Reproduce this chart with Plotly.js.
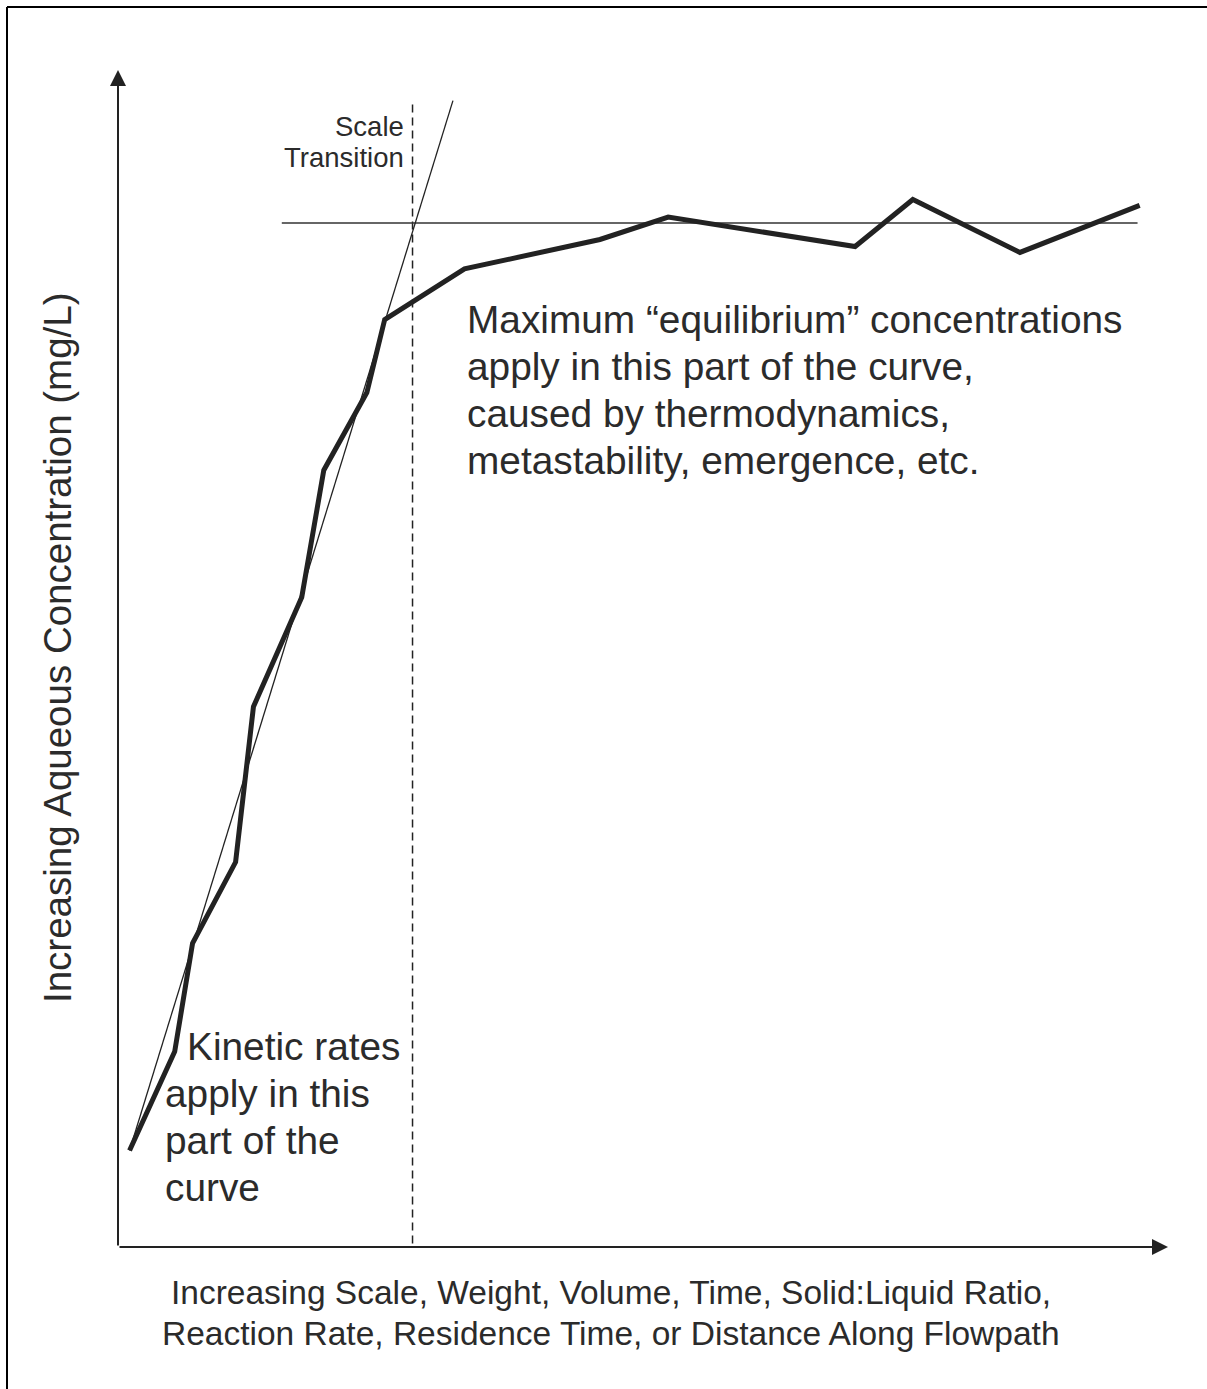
<!DOCTYPE html>
<html>
<head>
<meta charset="utf-8">
<script src="https://cdn.plot.ly/plotly-3.0.1.min.js"></script>
<style>html,body{margin:0;padding:0;background:#fff;}</style>
</head>
<body>
<div id="chart" style="width:1207px;height:1389px;"></div>
<script>
// ---- data (arbitrary conceptual units, 0-100 on both axes) ----
const curveX = [1.1, 5.4, 7.1, 11.2, 12.9, 17.5, 19.6, 23.7, 25.4, 33.0, 45.9, 52.4, 70.2, 75.7, 85.9, 97.3];
const curveY = [8.2, 16.6, 25.8, 32.7, 45.9, 55.2, 66.0, 72.6, 78.8, 83.1, 85.6, 87.5, 85.0, 89.0, 84.5, 88.5];
const kineticX = [1.1, 31.9];
const kineticY = [8.2, 97.4];
const equilibriumX = [15.6, 97.1];
const equilibriumY = [87.0, 87.0];
const transitionX = [28.05, 28.05];
const transitionY = [0.3, 97.5];

const xTitleLines = ["Increasing Scale, Weight, Volume, Time, Solid:Liquid Ratio,",
                     "Reaction Rate, Residence Time, or Distance Along Flowpath"];
const yTitle = "Increasing Aqueous Concentration (mg/L)";
const transitionLines = ["Scale", "Transition"];
const equilibriumLines = ["Maximum \u201cequilibrium\u201d concentrations",
                          "apply in this part of the curve,",
                          "caused by thermodynamics,",
                          "metastability, emergence, etc."];
const kineticLines = ["Kinetic rates", "apply in this", "part of the", "curve"];

// ---- layout helpers ----
const W = 1207, H = 1389;
const PX = x => x / W;
const PY = y => 1 - y / H;
const FONT = "Liberation Sans, Arial, sans-serif";
const TXT = "#2b2b2b";
const INK = "#222222";

const traces = [
  {x: transitionX, y: transitionY, mode: "lines", line: {color: INK, width: 1.5, dash: "8px,5px"}, hoverinfo: "skip"},
  {x: equilibriumX, y: equilibriumY, mode: "lines", line: {color: "#333", width: 1.6}, hoverinfo: "skip"},
  {x: kineticX, y: kineticY, mode: "lines", line: {color: INK, width: 1.3}, hoverinfo: "skip"},
  {x: curveX, y: curveY, mode: "lines", line: {color: INK, width: 5, shape: "linear"}, hoverinfo: "skip"}
];

const hiddenAxis = {
  range: [0, 100], showgrid: false, zeroline: false, showline: false,
  showticklabels: false, ticks: "", fixedrange: true
};

function textLines(lines, xs, y0, step, anchor, size) {
  return lines.map((t, i) => ({
    xref: "paper", yref: "paper",
    x: PX(Array.isArray(xs) ? xs[i] : xs), y: PY(y0 + i * step),
    xanchor: anchor, yanchor: "middle", text: t, showarrow: false,
    font: {family: FONT, size: size, color: TXT}
  }));
}

const annotations = [
  // axes with arrow heads
  {x: 0, y: 100, ax: 0, ay: 0, xref: "x", yref: "y", axref: "x", ayref: "y", text: "",
   showarrow: true, arrowhead: 2, arrowsize: 1.6, arrowwidth: 2, arrowcolor: INK, standoff: 0, startstandoff: 0},
  {x: 100, y: 0, ax: 0, ay: 0, xref: "x", yref: "y", axref: "x", ayref: "y", text: "",
   showarrow: true, arrowhead: 2, arrowsize: 1.6, arrowwidth: 2, arrowcolor: INK, standoff: 0, startstandoff: 0},
  // y title
  {xref: "paper", yref: "paper", x: PX(57), y: PY(648), xanchor: "center", yanchor: "middle",
   text: yTitle, textangle: -90, showarrow: false, font: {family: FONT, size: 38.5, color: TXT}}
]
  .concat(textLines(xTitleLines, 611, 1292, 41, "center", 33.5))
  .concat(textLines(transitionLines, 406, 126.4, 31.2, "right", 27.5))
  .concat(textLines(equilibriumLines, 465, 319.8, 46.8, "left", 38.8))
  .concat(textLines(kineticLines, [185, 163, 163, 163], 1046.8, 46.8, "left", 38.8));

const layout = {
  width: W, height: H,
  margin: {l: 0, r: 0, t: 0, b: 0},
  paper_bgcolor: "#ffffff", plot_bgcolor: "rgba(0,0,0,0)",
  showlegend: false,
  xaxis: Object.assign({}, hiddenAxis, {domain: [PX(118), PX(1168)]}),
  yaxis: Object.assign({}, hiddenAxis, {domain: [PY(1247), PY(70)]}),
  shapes: [
    {type: "line", xref: "paper", yref: "paper", x0: PX(7), y0: PY(7), x1: 1, y1: PY(7), line: {color: "#000", width: 2}},
    {type: "line", xref: "paper", yref: "paper", x0: PX(7), y0: PY(7), x1: PX(7), y1: 0, line: {color: "#000", width: 2}}
  ],
  annotations: annotations
};

Plotly.newPlot("chart", traces, layout, {staticPlot: true, displayModeBar: false});
</script>
</body>
</html>
